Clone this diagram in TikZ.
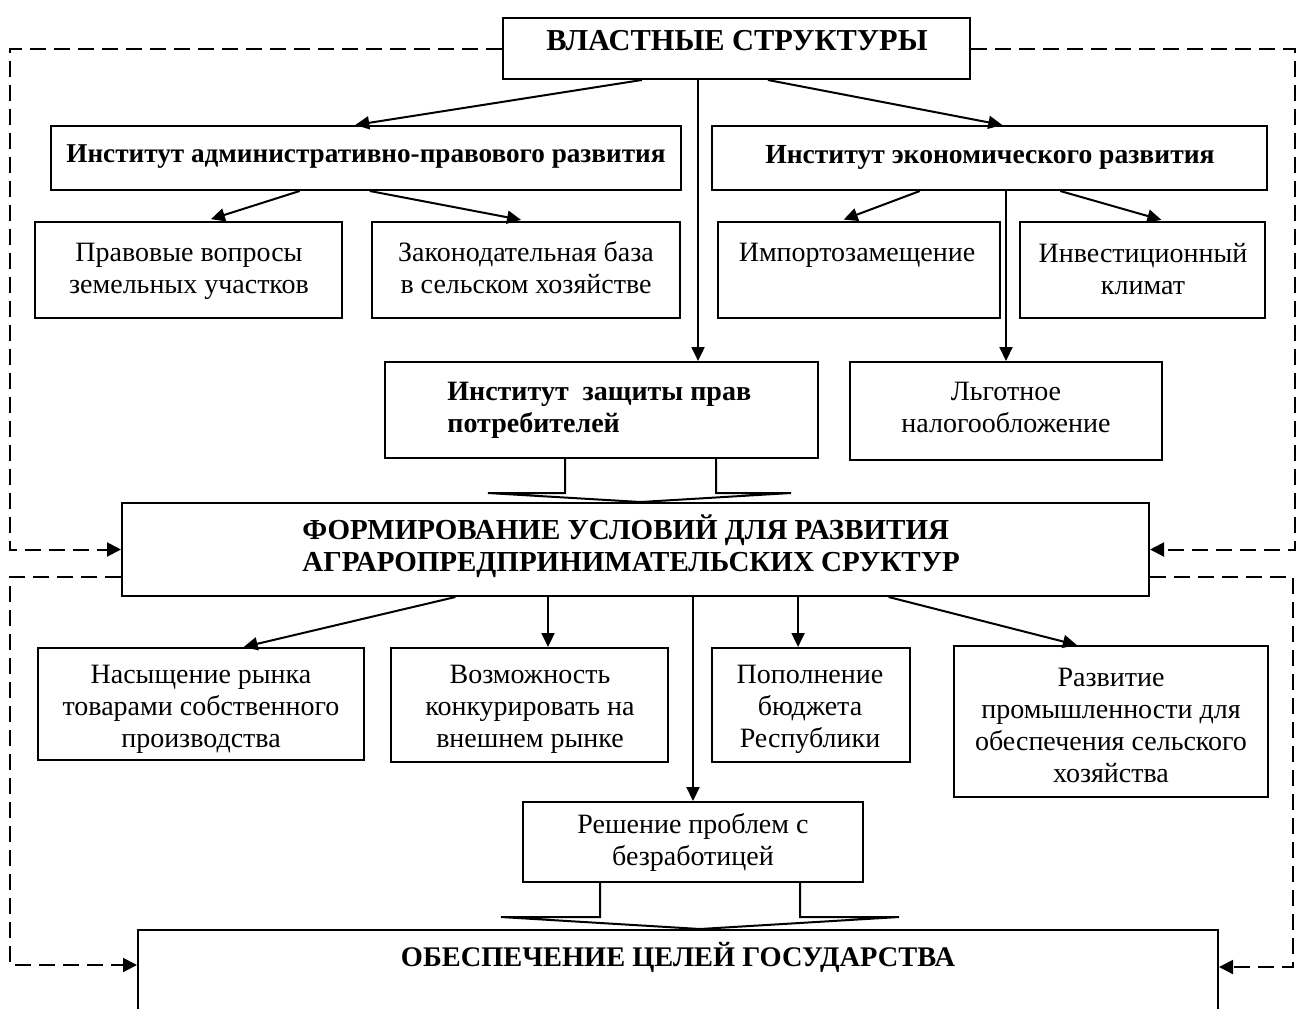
\documentclass[tikz,border=0pt]{standalone}
\usepackage{fontspec}
\setmainfont{Liberation Serif}
\usetikzlibrary{arrows.meta,calc,fit}
\begin{document}
\begin{tikzpicture}[x=0.5pt,y=-0.5pt,
  box/.style={draw,line width=1pt,rectangle,inner sep=0pt},
  txt/.style={align=center,inner sep=0pt,font=\fontsize{14pt}{16pt}\selectfont},
  btxt/.style={align=center,inner sep=0pt,font=\fontsize{14pt}{16pt}\selectfont\bfseries},
  arr/.style={line width=1pt,-{Triangle[length=7pt,width=6.5pt]}},
  dsh/.style={line width=1pt,dash pattern=on 8pt off 4pt,-{Triangle[length=7pt,width=7pt]}},
  blk/.style={line width=1pt,line join=miter}
]
\clip (0,0) rectangle (1301,1008);
\fill[white] (0,0) rectangle (1301,1008);

% boxes
\node[box,fit={(503,18) (970,79)}] (top) {};
\node[box,fit={(51,126) (681,190)}] (adm) {};
\node[box,fit={(712,126) (1267,190)}] (eco) {};
\node[box,fit={(35,222) (342,318)}] (prav) {};
\node[box,fit={(372,222) (680,318)}] (zak) {};
\node[box,fit={(718,222) (1000,318)}] (imp) {};
\node[box,fit={(1020,222) (1265,318)}] (inv) {};
\node[box,fit={(385,362) (818,458)}] (cons) {};
\node[box,fit={(850,362) (1162,460)}] (lgot) {};
\node[box,fit={(122,503) (1149,596)}] (form) {};
\node[box,fit={(38,648) (364,760)}] (nas) {};
\node[box,fit={(391,648) (668,762)}] (voz) {};
\node[box,fit={(712,648) (910,762)}] (pop) {};
\node[box,fit={(954,646) (1268,797)}] (raz) {};
\node[box,fit={(523,802) (863,882)}] (resh) {};
\node[box,fit={(138,930) (1218,1060)}] (goal) {};

% texts
\node[btxt,font=\fontsize{15.2pt}{17pt}\selectfont\bfseries] (ttop) at (737,41) {ВЛАСТНЫЕ СТРУКТУРЫ};
\node[btxt,font=\fontsize{13.6pt}{16pt}\selectfont\bfseries] (tadm) at (366,157) {Институт административно-правового развития};
\node[btxt,font=\fontsize{13.8pt}{16pt}\selectfont\bfseries] (teco) at (990,157) {Институт экономического развития};
\node[txt] (tprav) at (189,271) {Правовые вопросы\\земельных участков};
\node[txt] (tzak) at (526,268) {Законодательная база\\в сельском хозяйстве};
\node[txt] (timp) at (857,255) {Импортозамещение};
\node[txt] (tinv) at (1143,269) {Инвестиционный\\климат};
\node[btxt,align=left,anchor=west] (tcons) at (447,410) {Институт\ \ защиты прав\\потребителей};
\node[txt] (tlgot) at (1006,407) {Льготное\\налогообложение};
\node[btxt,align=left,anchor=west,font=\fontsize{14.5pt}{16pt}\selectfont\bfseries] (tform) at (302,546) {ФОРМИРОВАНИЕ УСЛОВИЙ ДЛЯ РАЗВИТИЯ\\АГРАРОПРЕДПРИНИМАТЕЛЬСКИХ СРУКТУР};
\node[txt] (tnas) at (201,709) {Насыщение рынка\\товарами собственного\\производства};
\node[txt] (tvoz) at (530,709) {Возможность\\конкурировать на\\внешнем рынке};
\node[txt] (tpop) at (810,709) {Пополнение\\бюджета\\Республики};
\node[txt] (traz) at (1111,725) {Развитие\\промышленности для\\обеспечения сельского\\хозяйства};
\node[txt] (tresh) at (693,842) {Решение проблем с\\безработицей};
\node[btxt,font=\fontsize{14.2pt}{16pt}\selectfont\bfseries] (tgoal) at (678,957) {ОБЕСПЕЧЕНИЕ ЦЕЛЕЙ ГОСУДАРСТВА};

% arrows from top box
\draw[arr] ($(top.south west)!0.298!(top.south east)$) -- ($(adm.north west)!0.483!(adm.north east)$);
\draw[arr] ($(top.south west)!0.567!(top.south east)$) -- ($(eco.north west)!0.523!(eco.north east)$);
\draw[arr] ($(top.south west)!0.418!(top.south east)$) coordinate (c1) -- (c1 |- cons.north);

% arrows from institute boxes
\draw[arr,shorten >=3pt] ($(adm.south west)!0.395!(adm.south east)$) -- ($(prav.north west)!0.554!(prav.north east)$);
\draw[arr,shorten >=3pt] ($(adm.south west)!0.506!(adm.south east)$) -- ($(zak.north west)!0.503!(zak.north east)$);
\draw[arr,shorten >=2pt] ($(eco.south west)!0.375!(eco.south east)$) -- ($(imp.north west)!0.433!(imp.north east)$);
\draw[arr,shorten >=2pt] ($(eco.south west)!0.627!(eco.south east)$) -- ($(inv.north west)!0.592!(inv.north east)$);
\draw[arr] (lgot.north |- eco.south) -- (lgot.north);

% block arrow consumer -> formation
\draw[blk] ($(cons.south west)+(181,0)$) -- ++(0,34) -- ++(-77,0)
  -- ($(form.north west)+(519.5,0)$) -- ($(cons.south west)+(407,34)$)
  -- ++(-75,0) -- ($(cons.south west)+(332,0)$);

% arrows from formation
\draw[arr] ($(form.south west)!0.325!(form.south east)$) -- ($(nas.north west)!0.63!(nas.north east)$);
\draw[arr] ($(form.south west)!0.415!(form.south east)$) coordinate (c2) -- (c2 |- voz.north);
\draw[arr] (resh.north |- form.south) -- (resh.north);
\draw[arr] ($(form.south west)!0.658!(form.south east)$) coordinate (c3) -- (c3 |- pop.north);
\draw[arr] ($(form.south west)!0.746!(form.south east)$) -- ($(raz.north west)!0.392!(raz.north east)$);

% block arrow resh -> goal
\draw[blk] ($(resh.south west)+(78,0)$) -- ++(0,34) -- ++(-99,0)
  -- ($(goal.north west)+(563,0)$) -- ($(resh.south west)+(377,34)$)
  -- ++(-99,0) -- ($(resh.south west)+(278,0)$);

% dashed feedback lines
\coordinate (L) at (10,0);
\coordinate (R) at (1295,0);
\coordinate (R2) at (1293,0);
\coordinate (gL) at ($(goal.north west)+(0,36)$);
\coordinate (gR) at ($(goal.north east)+(0,38)$);
\draw[dsh] (top.west) -| (L |- form.west) -- (form.west);
\draw[dsh] (top.east) -| (R |- form.east) -- (form.east);
\draw[dsh] ($(form.south west)+(0,-20)$) -| (L |- gL) -- (gL);
\draw[dsh] ($(form.south east)+(0,-20)$) -| (R2 |- gR) -- (gR);
\end{tikzpicture}
\end{document}
